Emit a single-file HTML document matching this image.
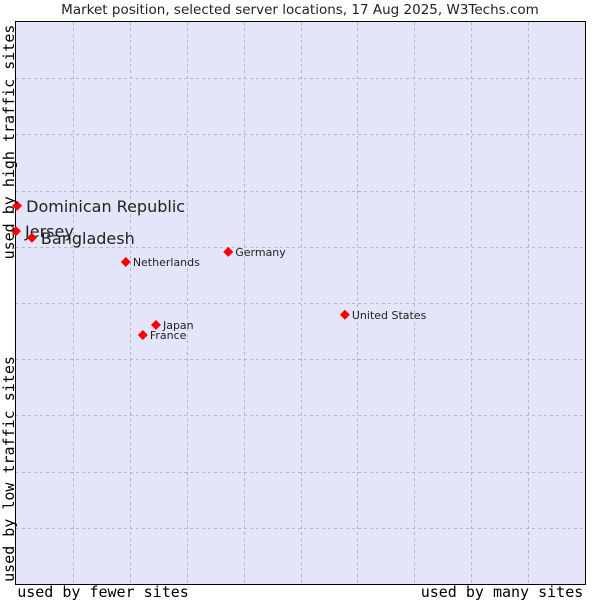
<!DOCTYPE html>
<html><head><meta charset="utf-8"><style>
body{margin:0;background:#fff;}
svg{display:block;}
</style></head><body>
<svg id="chart" width="600" height="600" xmlns="http://www.w3.org/2000/svg">
<text x="300" y="14" text-anchor="middle" font-family="DejaVu Sans, sans-serif" font-size="13.5" fill="#222">Market position, selected server locations, 17 Aug 2025, W3Techs.com</text>
<rect x="15.5" y="21.5" width="570" height="563" fill="#e4e5f8" stroke="#000" stroke-width="1"/>
<g id="grid"></g>
<g id="marks"></g>
<text x="103" y="597" text-anchor="middle" font-family="DejaVu Sans Mono, Liberation Mono, monospace" font-size="15" fill="#000">used by fewer sites</text>
<text x="502" y="597" text-anchor="middle" font-family="DejaVu Sans Mono, Liberation Mono, monospace" font-size="15" fill="#000">used by many sites</text>
<text transform="translate(14,469) rotate(-90)" text-anchor="middle" font-family="DejaVu Sans Mono, Liberation Mono, monospace" font-size="15" fill="#000">used by low traffic sites</text>
<text transform="translate(14,142) rotate(-90)" text-anchor="middle" font-family="DejaVu Sans Mono, Liberation Mono, monospace" font-size="15" fill="#000">used by high traffic sites</text>
</svg>
<script>
const countries = ["Dominican Republic","Jersey","Bangladesh","Netherlands","Germany","United States","Japan","France"];
const xValues = [0.2, 0, 2.8, 19.3, 37.3, 57.8, 24.6, 22.3];
const yValues = [67.3, 62.8, 61.6, 57.3, 59.1, 47.9, 46.1, 44.3];
const bigLabel = [true, true, true, false, false, false, false, false];
const gridTicks = [10,20,30,40,50,60,70,80,90];

const NS="http://www.w3.org/2000/svg";
const L=16,R=585,T=22,B=584;
function sx(v){return L+(R-L)*v/100;}
function sy(v){return B-(B-T)*v/100;}
const grid=document.getElementById('grid');
gridTicks.forEach(t=>{
  const v=document.createElementNS(NS,'line');
  v.setAttribute('x1',Math.round(sx(t))+0.5);v.setAttribute('x2',Math.round(sx(t))+0.5);
  v.setAttribute('y1',T);v.setAttribute('y2',B);
  v.setAttribute('stroke','#b8b8c0');v.setAttribute('stroke-dasharray','3,3');
  
  
  grid.appendChild(v);
  const h=document.createElementNS(NS,'line');
  h.setAttribute('y1',Math.round(sy(t))+0.5);h.setAttribute('y2',Math.round(sy(t))+0.5);
  h.setAttribute('x1',L);h.setAttribute('x2',R);
  h.setAttribute('stroke','#b8b8c0');h.setAttribute('stroke-dasharray','3,3');
  
  
  grid.appendChild(h);
});
const marks=document.getElementById('marks');
countries.forEach((c,i)=>{
  const x=sx(xValues[i]),y=sy(yValues[i]);
  const p=document.createElementNS(NS,'polygon');
  p.setAttribute('points',`${x},${y-5} ${x+5},${y} ${x},${y+5} ${x-5},${y}`);
  p.setAttribute('fill','#f00');
  
  
  marks.appendChild(p);
  const t=document.createElementNS(NS,'text');
  const big=bigLabel[i];
  t.setAttribute('x',x+(big?9:7));
  t.setAttribute('y',y+(big?6:4));
  t.setAttribute('font-family','DejaVu Sans, sans-serif');
  t.setAttribute('font-size',big?16:11);
  t.setAttribute('fill','#222');
  t.textContent=c;
  
  
  marks.appendChild(t);
});
</script>
</body></html>
